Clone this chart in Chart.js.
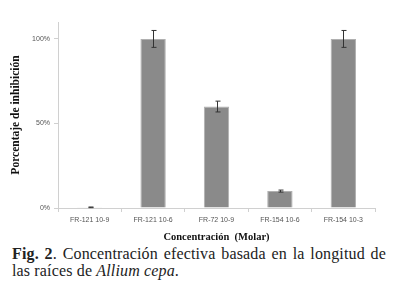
<!DOCTYPE html>
<html>
<head>
<meta charset="utf-8">
<script src="https://cdn.jsdelivr.net/npm/chart.js@4"></script>
<style>
  body { margin: 0; background: #fff; width: 400px; height: 288px; overflow: hidden; }
  #wrap { position: relative; width: 400px; height: 244px; }
  .cap { position: absolute; left: 12px; top: 245px; width: 374px; font-family: "Liberation Serif", "DejaVu Serif", serif;
         font-size: 16px; letter-spacing: 0.15px; line-height: 17px; color: #222; text-align: justify; text-align-last: left; }
</style>
</head>
<body>
<div id="wrap"><canvas id="chart" width="400" height="244"></canvas></div>
<div class="cap"><b>Fig. 2</b>. Concentración efectiva basada en la longitud de las raíces de <i>Allium cepa</i>.</div>
<script>
const labels = ['FR-121 10-9', 'FR-121 10-6', 'FR-72 10-9', 'FR-154 10-6', 'FR-154 10-3'];
const values = [0.4, 100, 60, 10, 100];
const errors = [0.2, 5, 3.2, 0.6, 5];
const yTicks = [0, 50, 100];

// barras de error dibujadas con las escalas del gráfico
const errorBars = {
  id: 'errorBars',
  afterDatasetsDraw(chart) {
    const ctx = chart.ctx;
    const meta = chart.getDatasetMeta(0);
    const y = chart.scales.y;
    ctx.save();
    ctx.strokeStyle = '#333';
    ctx.lineWidth = 1;
    meta.data.forEach((bar, i) => {
      const x = Math.round(bar.x) + 0.5;
      const top = y.getPixelForValue(values[i] + errors[i]);
      const bot = y.getPixelForValue(values[i] - errors[i]);
      ctx.beginPath();
      ctx.moveTo(x, top); ctx.lineTo(x, bot);
      ctx.moveTo(x - 2, top); ctx.lineTo(x + 3, top);
      ctx.moveTo(x - 2, bot); ctx.lineTo(x + 3, bot);
      ctx.stroke();
    });
    ctx.restore();
  }
};

new Chart(document.getElementById('chart'), {
  type: 'bar',
  data: {
    labels: labels,
    datasets: [{
      data: values,
      backgroundColor: '#8a8a8a',
      borderColor: '#b0b0b0',
      borderWidth: 1,
      barPercentage: 0.4,
      categoryPercentage: 1
    }]
  },
  options: {
    responsive: false,
    animation: false,
    layout: { padding: { top: 22, right: 25, left: 9, bottom: 0 } },
    plugins: { legend: { display: false }, tooltip: { enabled: false } },
    scales: {
      x: {
        offset: true,
        grid: { display: true, drawOnChartArea: false, offset: true, tickLength: 4, color: '#d0d0d0' },
        border: { color: '#d0d0d0' },
        ticks: { color: '#555', font: { family: 'Liberation Sans', size: 7 }, padding: 4, maxRotation: 0 },
        title: {
          display: true, text: 'Concentración  (Molar)', color: '#111',
          font: { family: 'Liberation Serif', size: 10.5, weight: 'bold' }, padding: { top: 6, bottom: 0 }
        },
        afterFit: s => { s.height = 36; }
      },
      y: {
        min: 0, max: 110,
        afterBuildTicks: s => { s.ticks = yTicks.map(v => ({ value: v })); },
        grid: { display: true, drawOnChartArea: false, tickLength: 4, color: '#d0d0d0' },
        border: { color: '#d0d0d0' },
        ticks: { color: '#555', font: { family: 'Liberation Sans', size: 7 }, padding: 4, callback: v => v + '%' },
        title: {
          display: true, text: 'Porcentaje de inhibición', color: '#111',
          font: { family: 'Liberation Serif', size: 11.5, weight: 'bold' }, padding: { top: 0, bottom: 0 }
        },
        afterFit: s => { s.width = 49; }
      }
    }
  },
  plugins: [errorBars]
});
</script>
</body>
</html>
